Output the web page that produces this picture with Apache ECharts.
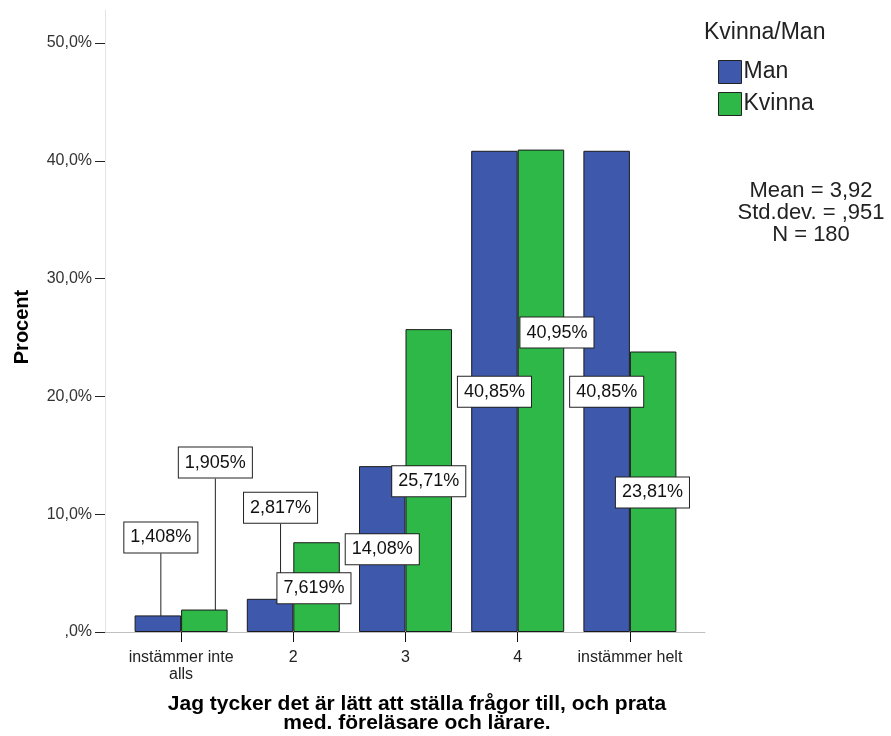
<!DOCTYPE html>
<html>
<head>
<meta charset="utf-8">
<script src="https://cdn.jsdelivr.net/npm/echarts@6/dist/echarts.min.js"></script>
<style>
html,body{margin:0;padding:0;background:#fff;}
#chart{width:891px;height:736px;}
</style>
</head>
<body>
<div id="chart"></div>
<script>
// ---- data ----
var categories = ['instämmer inte\nalls', '2', '3', '4', 'instämmer helt'];
var seriesNames = ['Man', 'Kvinna'];
var manValues = [1.408, 2.817, 14.08, 40.85, 40.85];
var kvinnaValues = [1.905, 7.619, 25.71, 40.95, 23.81];
var yTicks = [0, 10, 20, 30, 40, 50];
var legendTitle = 'Kvinna/Man';
var statsLines = ['Mean = 3,92', 'Std.dev. = ,951', 'N = 180'];
var xTitle = 'Jag tycker det är lätt att ställa frågor till, och prata\nmed. föreläsare och lärare.';
var yTitle = 'Procent';

// ---- label placement (style) ----
var manLabelDx = [3, 10.5, 0, 0, 0];
var manLabelDy = [-63, -76, 98, 256, 256];
var manLabelLine = [true, true, false, false, false];
var kvinnaLabelDx = [11, -2.6, 0, 16, -0.7];
var kvinnaLabelDy = [-132, 61, 167, 198, 156];
var kvinnaLabelLine = [true, false, false, false, false];

var FONT = '"Liberation Sans", Arial, sans-serif';
var BLUE = '#3e58ac', GREEN = '#2eb848';

function fmtPct(v) { return v.toPrecision(4).replace('.', ',') + '%'; }
function buildData(values, lines) {
  return values.map(function (v, i) {
    return { value: v, labelLine: { show: lines[i] } };
  });
}
var dxs = [manLabelDx, kvinnaLabelDx];
var dys = [manLabelDy, kvinnaLabelDy];

var labelCfg = {
  show: true,
  position: 'top',
  distance: 0,
  formatter: function (p) { return fmtPct(p.value); },
  fontFamily: FONT,
  fontSize: 18,
  lineHeight: 20,
  color: '#111',
  backgroundColor: '#fff',
  borderColor: '#222',
  borderWidth: 1,
  padding: [5, 6, 5, 6]
};

var chart = echarts.init(document.getElementById('chart'), null, { renderer: 'canvas' });
var option = {
  animation: false,
  backgroundColor: '#fff',
  textStyle: { fontFamily: FONT },
  title: {
    text: legendTitle,
    left: 704, top: 21,
    padding: 0,
    textStyle: { fontFamily: FONT, fontSize: 23, fontWeight: 'normal', color: '#222' }
  },
  legend: {
    data: seriesNames,
    orient: 'vertical',
    left: 718, top: 60,
    padding: 0,
    itemWidth: 23, itemHeight: 23, itemGap: 8,
    icon: 'rect',
    selectedMode: false,
    textStyle: { fontFamily: FONT, fontSize: 23, color: '#222', padding: [0, 0, 0, -3] },
    itemStyle: { borderColor: '#222', borderWidth: 1 }
  },
  grid: [
    { left: 125, width: 561, top: 43, height: 589, outerBoundsMode: 'none', containLabel: false },
    { left: 105, width: 600, top: 10, height: 622, outerBoundsMode: 'none', containLabel: false }
  ],
  xAxis: [
    {
      gridIndex: 0,
      type: 'category',
      data: categories,
      axisLine: { show: false },
      axisTick: { show: true, alignWithLabel: true, length: 10, lineStyle: { color: '#111', width: 1 } },
      axisLabel: { fontFamily: FONT, fontSize: 16, lineHeight: 17, color: '#222', margin: 17, interval: 0 },
      splitLine: { show: false }
    },
    {
      gridIndex: 1,
      type: 'value', min: 0, max: 1,
      axisLine: { show: true, lineStyle: { color: '#c0c0c0', width: 1 } },
      axisTick: { show: false }, axisLabel: { show: false }, splitLine: { show: false }
    }
  ],
  yAxis: [
    {
      gridIndex: 0,
      type: 'value',
      min: yTicks[0], max: yTicks[yTicks.length - 1], interval: yTicks[1] - yTicks[0],
      offset: 20,
      axisLine: { show: false },
      axisTick: { show: true, length: 10, lineStyle: { color: '#222', width: 1 } },
      axisLabel: {
        fontFamily: FONT, fontSize: 16, color: '#333', margin: 13,
        formatter: function (v) { return v === 0 ? ',0%' : v.toFixed(1).replace('.', ',') + '%'; }
      },
      splitLine: { show: false }
    },
    {
      gridIndex: 1,
      type: 'value', min: 0, max: 1,
      axisLine: { show: true, lineStyle: { color: '#e4e4e4', width: 1 } },
      axisTick: { show: false }, axisLabel: { show: false }, splitLine: { show: false }
    }
  ],
  series: [
    {
      name: seriesNames[0], type: 'bar', xAxisIndex: 0, yAxisIndex: 0,
      data: buildData(manValues, manLabelLine),
      barWidth: 46.5, barGap: '0%',
      itemStyle: { color: BLUE, borderColor: '#1a1a1a', borderWidth: 1 },
      label: labelCfg,
      labelLine: { show: false, lineStyle: { color: '#222', width: 1 } },
      labelLayout: function (p) { return { dx: dxs[0][p.dataIndex], dy: dys[0][p.dataIndex] }; },
      emphasis: { disabled: true }
    },
    {
      name: seriesNames[1], type: 'bar', xAxisIndex: 0, yAxisIndex: 0,
      data: buildData(kvinnaValues, kvinnaLabelLine),
      barWidth: 46.5, barGap: '0%',
      itemStyle: { color: GREEN, borderColor: '#1a1a1a', borderWidth: 1 },
      label: labelCfg,
      labelLine: { show: false, lineStyle: { color: '#222', width: 1 } },
      labelLayout: function (p) { return { dx: dxs[1][p.dataIndex], dy: dys[1][p.dataIndex] }; },
      emphasis: { disabled: true }
    }
  ],
  graphic: [
    {
      type: 'text', x: 811, y: 180,
      style: {
        text: statsLines.join('\n'),
        font: '22px ' + FONT,
        lineHeight: 22,
        textAlign: 'center',
        fill: '#222'
      }
    },
    {
      type: 'text', x: 417, y: 695,
      style: {
        text: xTitle,
        font: 'bold 21px ' + FONT,
        lineHeight: 19,
        textAlign: 'center',
        fill: '#000'
      }
    },
    {
      type: 'text', x: 22, y: 327, rotation: Math.PI / 2,
      style: {
        text: yTitle,
        font: 'bold 20px ' + FONT,
        textAlign: 'center',
        textVerticalAlign: 'middle',
        fill: '#000'
      }
    }
  ]
};
chart.setOption(option);
</script>
</body>
</html>
